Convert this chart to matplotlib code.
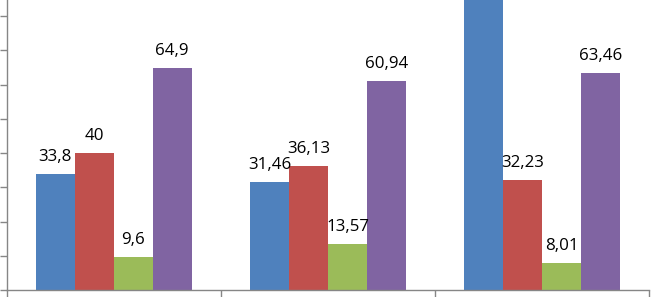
import matplotlib
matplotlib.use("Agg")
import matplotlib.pyplot as plt
import numpy as np

categories = ["A", "B", "C"]
series_names = ["S1", "S2", "S3", "S4"]
s1 = [33.8, 31.46, 90.0]
s2 = [40, 36.13, 32.23]
s3 = [9.6, 13.57, 8.01]
s4 = [64.9, 60.94, 63.46]
labels = [["33,8", "31,46", ""], ["40", "36,13", "32,23"],
          ["9,6", "13,57", "8,01"], ["64,9", "60,94", "63,46"]]
colors = ["#4F81BD", "#C0504D", "#9BBB59", "#8064A2"]

W, H = 651, 297
fig = plt.figure(figsize=(W / 100, H / 100), dpi=100)
left, right, bottom, top = 6.5, 649.5, 290, 0
ax = fig.add_axes([left / W, (H - bottom) / H, (right - left) / W, (bottom - top) / H])

x = np.arange(len(categories))
bw = 0.182
series = [s1, s2, s3, s4]
for i, (vals, c) in enumerate(zip(series, colors)):
    pos = x + (i - 1.5) * bw
    ax.bar(pos, vals, width=bw, color=c, edgecolor="none", zorder=2)
    for p, v, lab in zip(pos, vals, labels[i]):
        if lab:
            ax.annotate(lab, xy=(p, v), xytext=(0, 6.5), textcoords="offset points",
                        ha="center", va="bottom", fontsize=12.2, family="Open Sans",
                        color="black", zorder=3)

ax.set_xlim(-0.5, 2.5)
ax.set_ylim(0, 84.7)
ax.set_xticks([-0.5, 0.5, 1.5, 2.5])
ax.set_xticklabels([])
ax.set_yticks(np.arange(0, 81, 10))
ax.set_yticklabels([])
ax.tick_params(axis="both", direction="out", length=5.2, width=1.0, color="#868686")
for s in ["top", "right"]:
    ax.spines[s].set_visible(False)
for s in ["left", "bottom"]:
    ax.spines[s].set_color("#868686")
    ax.spines[s].set_linewidth(1.0)

fig.savefig("out.png", dpi=100)
